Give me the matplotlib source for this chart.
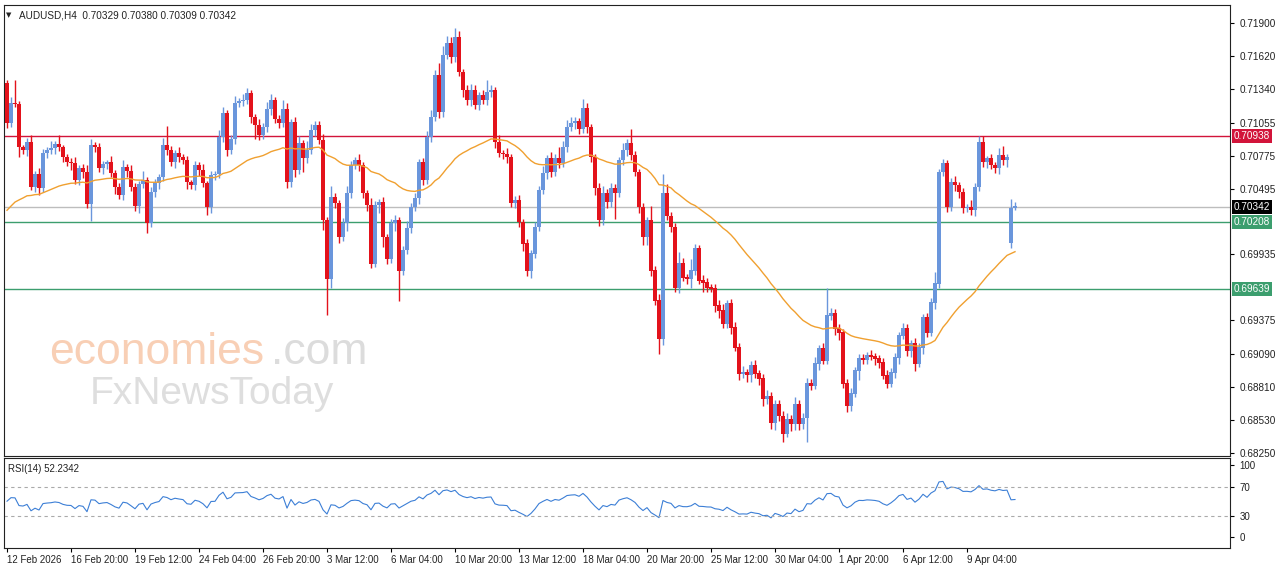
import numpy as np
import matplotlib
matplotlib.use("Agg")
import matplotlib.pyplot as plt
from matplotlib.transforms import blended_transform_factory

plt.rcParams['font.family'] = ['Liberation Sans', 'DejaVu Sans']

closes = [
0.71049,0.71219,0.71211,0.70845,0.70820,0.70888,0.70505,0.70615,0.70496,0.70794,
0.70820,0.70837,0.70871,0.70845,0.70760,0.70717,0.70709,0.70564,0.70666,0.70632,
0.70360,0.70862,0.70845,0.70666,0.70700,0.70717,0.70624,0.70505,0.70437,0.70675,
0.70641,0.70505,0.70343,0.70530,0.70564,0.70198,0.70462,0.70539,0.70590,0.70862,
0.70820,0.70717,0.70794,0.70760,0.70734,0.70547,0.70522,0.70692,0.70649,0.70539,
0.70334,0.70607,0.70615,0.70930,0.71134,0.70820,0.70913,0.71219,0.71236,0.71245,
0.71305,0.71100,0.71032,0.70947,0.71015,0.71168,0.71245,0.71083,0.71049,0.71168,
0.70547,0.71058,0.70649,0.70879,0.70751,0.70820,0.70990,0.71032,0.70905,0.70224,
0.69730,0.70420,0.70368,0.70079,0.70198,0.70454,0.70692,0.70734,0.70692,0.70454,
0.70351,0.69858,0.70351,0.70377,0.70079,0.69900,0.70198,0.70224,0.69798,0.69969,
0.70156,0.70334,0.70411,0.70717,0.70564,0.70930,0.71100,0.71458,0.71143,0.71628,
0.71730,0.71611,0.71781,0.71483,0.71330,0.71245,0.71330,0.71202,0.71288,0.71245,
0.71313,0.71330,0.70888,0.70794,0.70785,0.70760,0.70368,0.70394,0.70207,0.70028,
0.69798,0.69943,0.70164,0.70479,0.70624,0.70751,0.70632,0.70751,0.70709,0.70845,
0.71015,0.71049,0.71066,0.70998,0.71177,0.71015,0.70760,0.70496,0.70224,0.70454,
0.70377,0.70496,0.70454,0.70734,0.70820,0.70879,0.70777,0.70632,0.70334,0.70079,
0.70224,0.69798,0.69543,0.69220,0.70454,0.70258,0.70164,0.69654,0.69858,0.69739,
0.69730,0.69798,0.69986,0.69713,0.69696,0.69654,0.69645,0.69500,0.69458,0.69347,
0.69518,0.69313,0.69143,0.68922,0.68930,0.68913,0.68990,0.68922,0.68879,0.68709,
0.68726,0.68504,0.68666,0.68564,0.68411,0.68539,0.68496,0.68666,0.68496,0.68547,
0.68837,0.68820,0.69007,0.69135,0.69032,0.69415,0.69432,0.69305,0.69271,0.68837,
0.68649,0.68752,0.68947,0.69049,0.69041,0.69075,0.69066,0.69049,0.69015,0.68905,
0.68837,0.68930,0.69058,0.69245,0.69305,0.69117,0.69177,0.69007,0.69143,0.69398,
0.69271,0.69526,0.69688,0.70632,0.70709,0.70334,0.70547,0.70522,0.70462,0.70326,
0.70334,0.70309,0.70505,0.70888,0.70717,0.70751,0.70692,0.70666,0.70777,0.70734,
0.70760,0.70326,0.70342]
first_open = 0.71390
gap_opens = {251: 0.70033, 252: 0.70329}

upper_wick_pips = [
3,5,20,3,2,4,6,3,5,4, 3,6,3,8,2,3,4,5,3,4, 6,5,3,4,3,2,5,3,4,6,
3,5,4,3,8,3,5,4,3,6, 16,4,3,5,3,4,2,4,3,5, 2,4,3,6,5,3,4,6,3,5,
4,3,3,5,4,6,5,3,4,8, 5,3,4,6,3,8,5,4,4,5, 3,10,4,3,5,6,4,3,5,3,
3,6,4,3,5,3,4,5,3,4, 6,4,5,3,4,5,6,4,10,8, 6,5,7,5,3,4,5,4,3,4,
10,4,3,6,3,5,3,4,5,3, 4,3,5,4,6,3,5,4,10,5, 6,5,4,3,8,4,3,3,5,6,
4,5,4,3,6,4,12,4,3,4, 3,12,4,6,3,8,4,4,10,5, 3,10,4,3,5,4,3,4,5,6,
3,4,5,4,6,3,4,5,3,4, 6,4,3,3,4,5,3,6,3,4, 5,4,6,3,5,14,5,4,4,3,
4,5,3,4,4,3,5,3,3,4, 5,4,4,3,5,4,3,5,4,3, 4,4,10,3,4,3,4,5,3,4,
3,6,4,3,5,2,4,3,6,8, 3,8,3]
lower_wick_pips = [
4,3,2,8,3,5,2,4,6,3, 4,3,5,3,4,3,6,3,4,5, 3,14,4,3,5,4,3,6,3,4,
5,3,4,6,3,8,3,4,5,3, 4,3,5,4,3,6,3,4,5,3, 6,5,4,3,4,5,3,4,3,4,
3,5,12,4,3,4,5,3,4,3, 5,4,6,3,12,4,3,5,3,8, 6,8,4,5,3,6,4,3,5,4,
5,4,3,6,8,5,4,6,8,4, 3,4,3,5,4,3,4,3,5,4, 3,5,4,3,6,4,5,3,4,3,
4,4,5,3,4,5,3,4,4,6, 5,6,4,3,3,5,4,3,4,3, 4,3,5,4,3,5,4,6,5,4,
5,4,22,3,4,5,4,3,5,6, 6,5,4,6,5,3,4,4,5,3, 5,8,4,3,8,4,3,5,6,4,
4,5,3,5,4,6,6,4,5,6, 4,5,6,4,7,3,6,5,5,4, 3,4,3,5,3,3,4,5,6,4,
5,4,3,8,4,4,3,5,4,3, 4,3,4,5,3,4,5,6,3,5, 4,3,5,4,3,4,3,5,5,4,
3,4,5,3,4,5,3,4,5,4, 6,4,3,3,3,4,3,5,5,4, 3,5,3]
highest_override = {112: 0.71860, 0: 0.71390, 205: 0.69650, 164: 0.70620, 243: 0.70938}
lowest_override = {194: 0.68340, 200: 0.68340, 163: 0.69090, 80: 0.69420, 98: 0.69540}
ma_seed = 0.70280
rsi_label_value = 52.2342

date_labels = ["12 Feb 2026", "16 Feb 20:00", "19 Feb 12:00", "24 Feb 04:00", "26 Feb 20:00",
               "3 Mar 12:00", "6 Mar 04:00", "10 Mar 20:00", "13 Mar 12:00", "18 Mar 04:00",
               "20 Mar 20:00", "25 Mar 12:00", "30 Mar 04:00", "1 Apr 20:00", "6 Apr 12:00",
               "9 Apr 04:00"]
price_ticks = [0.71900, 0.71620, 0.71340, 0.71055, 0.70775, 0.70495, 0.69935,
               0.69375, 0.69090, 0.68810, 0.68530, 0.68250]
levels = [(0.70938, "#d2143a"), (0.70342, "#bdbdbd"), (0.70208, "#3c9e6e"), (0.69639, "#3c9e6e")]
rsi_ticks = [100, 70, 30, 0]

n = len(closes)
c = np.array(closes)
o = np.empty(n)
o[0] = first_open
o[1:] = c[:-1]
for k, v in gap_opens.items():
    o[k] = v
hi = np.maximum(o, c) + np.array(upper_wick_pips[:n]) / 10000
lo = np.minimum(o, c) - np.array(lower_wick_pips[:n]) / 10000
for k, v in highest_override.items():
    hi[k] = max(hi[k], v)
for k, v in lowest_override.items():
    lo[k] = min(lo[k], v)
hi[252], lo[252] = 0.70380, 0.70309

alpha = 2 / 51
ma = np.empty(n)
prev = ma_seed
for i in range(n):
    prev = prev + alpha * (c[i] - prev)
    ma[i] = prev

d = np.diff(c, prepend=c[0])
g = np.clip(d, 0, None); l = np.clip(-d, 0, None)
ag = np.empty(n); al = np.empty(n)
ag[0], al[0] = 0.0006, 0.0006
for i in range(1, n):
    ag[i] = (ag[i-1] * 13 + g[i]) / 14
    al[i] = (al[i-1] * 13 + l[i]) / 14
rsi = 100 - 100 / (1 + ag / al)

W, H = 1280, 567
fig = plt.figure(figsize=(W/100, H/100), dpi=100)
fig.patch.set_facecolor("white")
ax = fig.add_axes([4/W, (H-456)/H, 1226/W, 451/H])
ax2 = fig.add_axes([4/W, (H-548)/H, 1226/W, 90/H])

x = np.arange(n)
blue, red = "#6a96dc", "#e3121b"
cols = [blue if c[i] >= o[i] else red for i in range(n)]
ax.vlines(x, lo, hi, colors=cols, linewidth=1, zorder=3)
ax.bar(x, np.abs(c - o) + 0.00003, bottom=np.minimum(o, c), width=0.78, color=cols, zorder=4,
       linewidth=0, antialiased=False)
ax.plot(x, ma, color="#f0a030", linewidth=1, zorder=5)
for v, col in levels:
    ax.axhline(v, color=col, linewidth=1, zorder=2)

y0 = 0.719 - (5 - 23) * 0.0000851
y1 = 0.719 - (455 - 23) * 0.0000851
ax.set_ylim(y1, y0)
ax.set_xlim(-0.75, 305.75)
ax.set_xticks([])
ax.yaxis.tick_right()
ax.set_yticks(price_ticks)
ax.set_yticklabels([f"{v:.5f}" for v in price_ticks], fontsize=7.2, color="#222")
ax.tick_params(axis="y", length=3, pad=4)
for s in ax.spines.values():
    s.set_color("#222"); s.set_linewidth(0.8)

tr = blended_transform_factory(ax.transAxes, ax.transData)
for v, col in levels:
    tc = "black" if col == "#bdbdbd" else col
    ax.text(1.003, v, f"{v:.5f}", transform=tr, fontsize=7.2, color="white", va="center", ha="left",
            bbox=dict(boxstyle="square,pad=0.2", fc=tc, ec="none"), zorder=10, clip_on=False)

ax.text(0.002, 0.985, "\u25BC", transform=ax.transAxes, fontsize=5, va="top", ha="left", color="#222",
        family="DejaVu Sans")
ax.text(0.012, 0.988, "AUDUSD,H4  0.70329 0.70380 0.70309 0.70342", transform=ax.transAxes,
        fontsize=7.2, va="top", ha="left", color="#222")

ax.text(0.037, 0.205, "economies", transform=ax.transAxes, fontsize=32, color="#f4a878", alpha=0.55, zorder=1)
ax.text(0.218, 0.205, ".com", transform=ax.transAxes, fontsize=32, color="#c0c0c0", alpha=0.55, zorder=1)
ax.text(0.070, 0.115, "FxNewsToday", transform=ax.transAxes, fontsize=28, color="#c8c8c8", alpha=0.6, zorder=1)

ax2.plot(x, rsi, color="#3c7fd6", linewidth=0.8)
for v in (70, 30):
    ax2.axhline(v, color="#aaaaaa", linewidth=0.8, linestyle=(0, (3, 3)))
ax2.set_xlim(-0.75, 305.75)
ax2.set_ylim(-15, 110)
ax2.yaxis.tick_right()
ax2.set_yticks(rsi_ticks)
ax2.set_yticklabels([str(t) for t in rsi_ticks], fontsize=7, color="#222")
ax2.tick_params(axis="y", length=3, pad=4)
ax2.set_xticks([16 * k for k in range(len(date_labels))])
ax2.set_xticklabels(date_labels, fontsize=7, color="#222", ha="left")
ax2.tick_params(axis="x", length=3, pad=2)
for s in ax2.spines.values():
    s.set_color("#222"); s.set_linewidth(0.8)
ax2.text(0.003, 0.93, f"RSI(14) {rsi_label_value:.4f}", transform=ax2.transAxes, fontsize=7, va="top", color="#222")

fig.savefig("out.png", dpi=100, facecolor="white")
